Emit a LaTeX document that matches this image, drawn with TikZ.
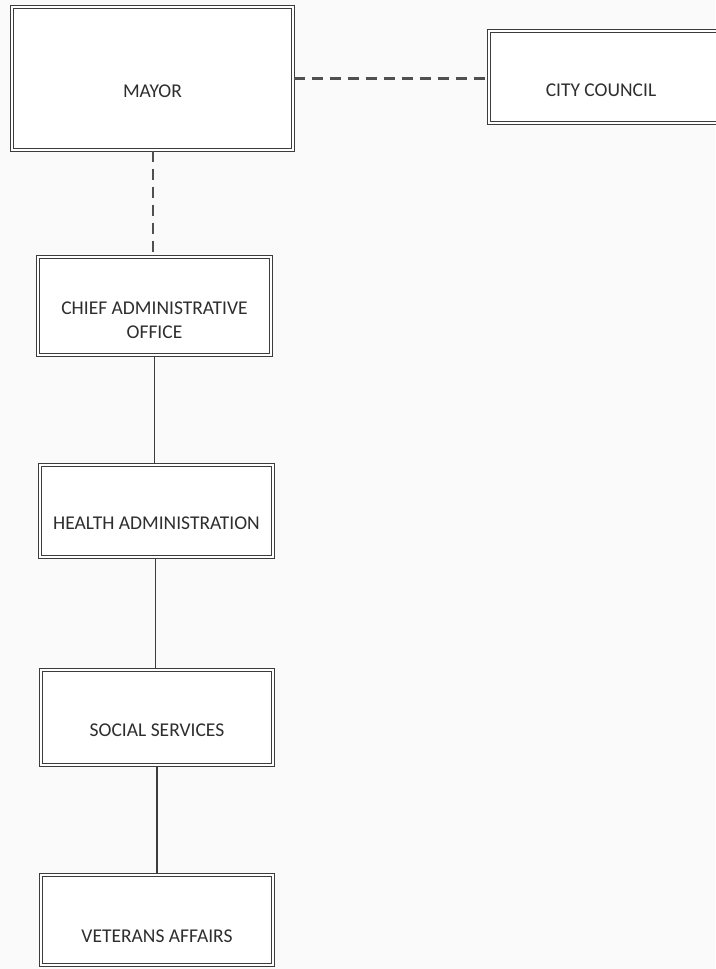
\documentclass[tikz,border=0pt]{standalone}
\usepackage{fontspec}
\setmainfont{Carlito}
\definecolor{edge}{HTML}{3C3C3C}
\definecolor{ink}{HTML}{2E2E2E}
\definecolor{paper}{HTML}{FAFAFA}
\begin{document}
\begin{tikzpicture}[x=1pt,y=-1pt,
  orgbox/.style={draw=edge, line width=1.4pt, double=white, double distance=1.6pt, rectangle, inner sep=0pt, fill=white},
  lbl/.style={text=ink, font=\fontsize{19.5}{24}\selectfont, align=center, inner sep=0pt},
  dashlink/.style={draw=edge!90, line width=2.2pt, dash pattern=on 11pt off 7pt},
  solidlink/.style={draw=edge, line width=1.6pt}]
\fill[paper] (0,0) rectangle (715,969);
\useasboundingbox (0,0) rectangle (715,969);
% boxes
\node[orgbox, minimum width=281pt, minimum height=143pt] (mayor) at (152.5,78.5) {};
\node[orgbox, minimum width=229pt, minimum height=92pt] (council) at (603.5,77) {};
\node[orgbox, minimum width=233pt, minimum height=98pt] (chief) at (154.5,306) {};
\node[orgbox, minimum width=233pt, minimum height=92pt] (health) at (156.5,511) {};
\node[orgbox, minimum width=232pt, minimum height=95pt] (social) at (157,717.5) {};
\node[orgbox, minimum width=232pt, minimum height=90pt] (veterans) at (157,920) {};
% labels
\node[lbl] (tmayor) at ([yshift=-13pt]mayor.center) {MAYOR};
\node[lbl] (tcouncil) at (601,90) {CITY COUNCIL};
\node[lbl] (tchief) at ([yshift=-14pt]chief.center) {CHIEF ADMINISTRATIVE\\OFFICE};
\node[lbl] (thealth) at ([yshift=-12pt]health.center) {HEALTH ADMINISTRATION};
\node[lbl] (tsocial) at ([yshift=-13pt]social.center) {SOCIAL SERVICES};
\node[lbl] (tveterans) at ([yshift=-16pt]veterans.center) {VETERANS AFFAIRS};
% connectors
\draw[dashlink] (mayor.east) -- (mayor.east -| council.west);
\draw[dashlink] ([xshift=0.5pt]mayor.south) -- ([xshift=0.5pt]mayor.south |- chief.north);
\draw[solidlink] (chief.south) -- (chief.south |- health.north);
\draw[solidlink] ([xshift=-1pt]health.south) -- ([xshift=-1pt]health.south |- social.north);
\draw[solidlink] (social.south) -- (social.south |- veterans.north);
\end{tikzpicture}
\end{document}
